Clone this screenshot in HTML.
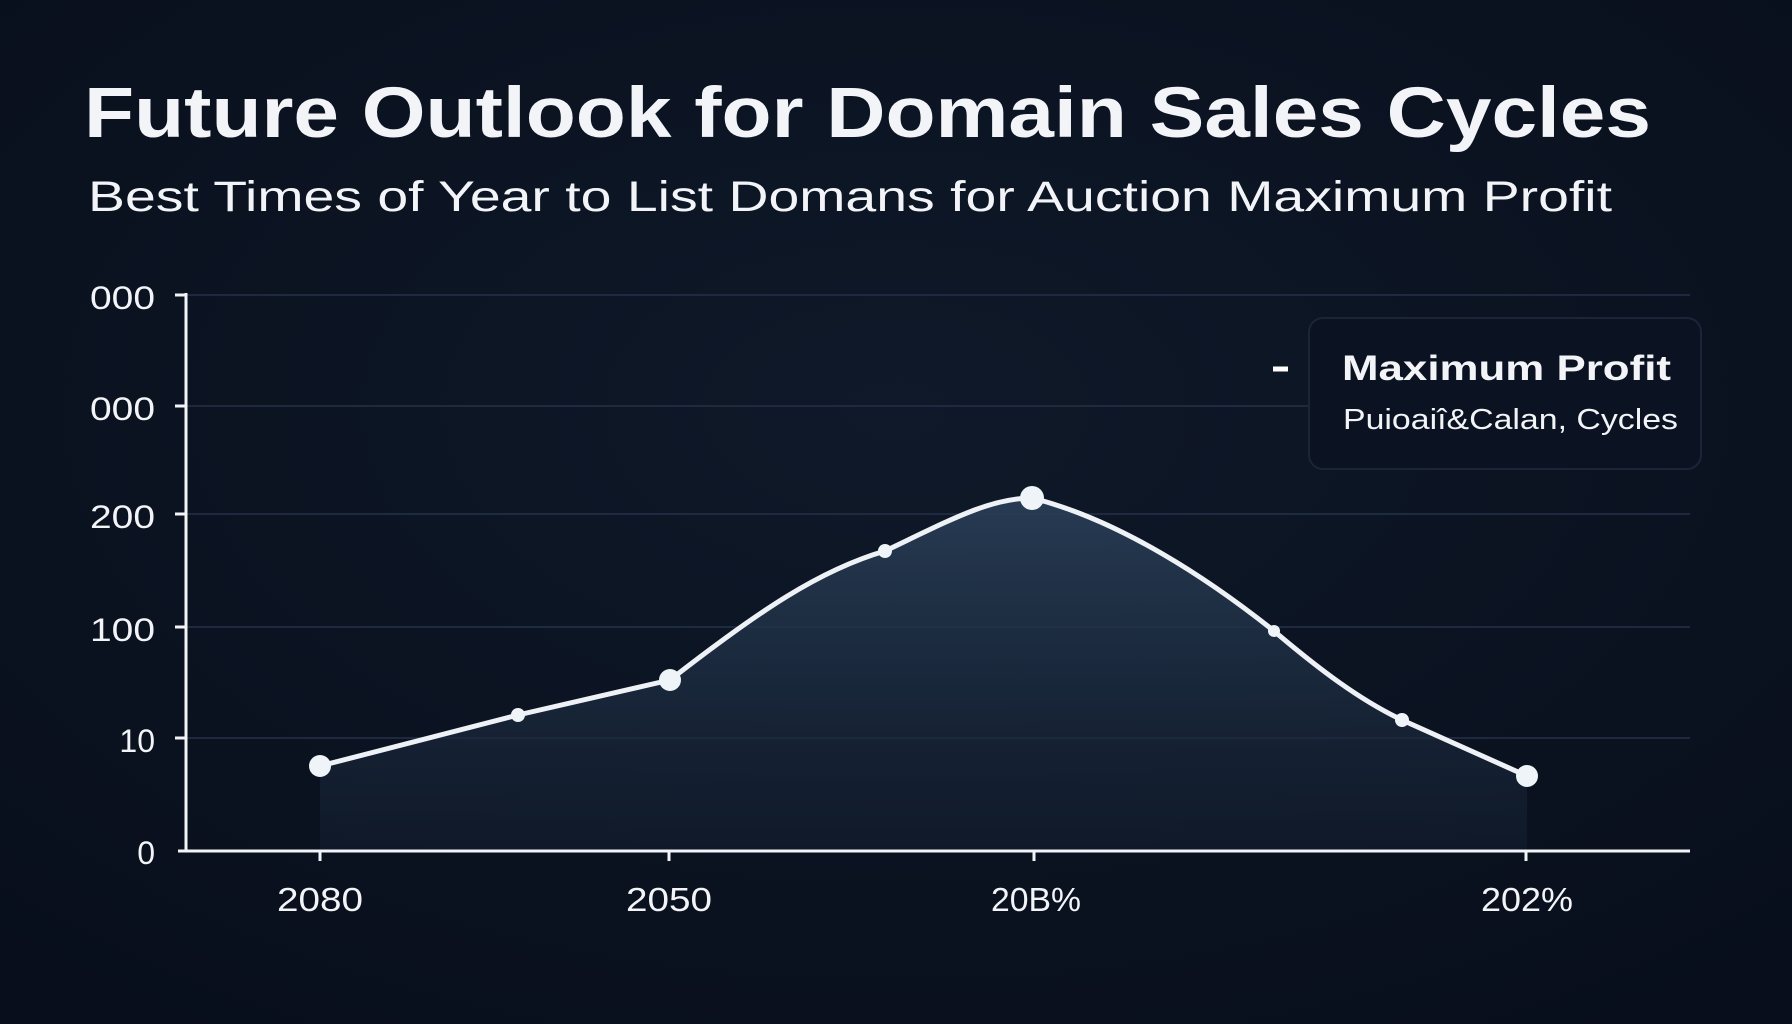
<!DOCTYPE html>
<html><head><meta charset="utf-8"><style>
html,body{margin:0;padding:0;background:#0a1120;}
svg{display:block}
text{font-family:"Liberation Sans",sans-serif;fill:#f2f4f7}
</style></head><body>
<svg width="1792" height="1024" viewBox="0 0 1792 1024">
<defs>
<radialGradient id="bg" cx="50%" cy="40%" r="75%"><stop offset="0" stop-color="#0f1929"/><stop offset="1" stop-color="#080e1b"/></radialGradient>
<linearGradient id="fill" x1="0" y1="0" x2="0" y2="1"><stop offset="0" stop-color="#2a3f58" stop-opacity="0.9"/><stop offset="1" stop-color="#121d2e" stop-opacity="0.6"/></linearGradient>
</defs>
<rect width="1792" height="1024" fill="url(#bg)"/>
<text x="84" y="137" font-size="71" font-weight="bold" textLength="1567" lengthAdjust="spacingAndGlyphs">Future Outlook for Domain Sales Cycles</text>
<text x="88" y="211" font-size="43" textLength="1524" lengthAdjust="spacingAndGlyphs">Best Times of Year to List Domans for Auction Maximum Profit</text>
<g stroke="#25314a" stroke-width="1.5">
<line x1="186" y1="295" x2="1690" y2="295"/><line x1="186" y1="406" x2="1690" y2="406"/>
<line x1="186" y1="514" x2="1690" y2="514"/><line x1="186" y1="627" x2="1690" y2="627"/>
<line x1="186" y1="738" x2="1690" y2="738"/>
</g>
<rect x="1309" y="318" width="392" height="151" rx="14" fill="#0b1322" stroke="#1b2538" stroke-width="2"/>
<line x1="1273" y1="369" x2="1288" y2="369" stroke="#fff" stroke-width="5"/>
<text x="1342" y="380" font-size="35" font-weight="bold" textLength="329" lengthAdjust="spacingAndGlyphs">Maximum Profit</text>
<text x="1343" y="429" font-size="29" fill="#dde2ea" textLength="335" lengthAdjust="spacingAndGlyphs">Puioaiî&amp;Calan, Cycles</text>
<path d="M320,766 L518,715 L670,680 C760,610 820,570 885,551 C950,520 990,498 1032,498 C1120,520 1210,580 1274,631 C1320,670 1360,700 1402,720 L1527,776 L1527,851 L320,851 Z" fill="url(#fill)"/>
<path d="M320,766 L518,715 L670,680 C760,610 820,570 885,551 C950,520 990,498 1032,498 C1120,520 1210,580 1274,631 C1320,670 1360,700 1402,720 L1527,776" fill="none" stroke="#eef2f6" stroke-width="5" stroke-linejoin="round"/>
<g fill="#eef4f8">
<circle cx="320" cy="766" r="11"/><circle cx="518" cy="715" r="7"/><circle cx="670" cy="680" r="11"/>
<circle cx="885" cy="551" r="7"/><circle cx="1032" cy="498" r="12"/><circle cx="1274" cy="631" r="6"/>
<circle cx="1402" cy="720" r="7"/><circle cx="1527" cy="776" r="11"/>
</g>
<g stroke="#f2f4f7" stroke-width="3">
<line x1="186" y1="293" x2="186" y2="852"/><line x1="178" y1="851" x2="1690" y2="851"/>
<line x1="175" y1="295" x2="186" y2="295"/><line x1="175" y1="406" x2="186" y2="406"/>
<line x1="175" y1="514" x2="186" y2="514"/><line x1="175" y1="627" x2="186" y2="627"/>
<line x1="175" y1="738" x2="186" y2="738"/>
<line x1="320" y1="851" x2="320" y2="861"/><line x1="669" y1="851" x2="669" y2="861"/>
<line x1="1034" y1="851" x2="1034" y2="861"/><line x1="1526" y1="851" x2="1526" y2="861"/>
</g>
<g font-size="32" text-anchor="end">
<text x="155" y="309" textLength="65" lengthAdjust="spacingAndGlyphs">000</text><text x="155" y="420" textLength="65" lengthAdjust="spacingAndGlyphs">000</text><text x="155" y="528" textLength="65" lengthAdjust="spacingAndGlyphs">200</text>
<text x="155" y="641" textLength="65" lengthAdjust="spacingAndGlyphs">100</text><text x="155" y="752">10</text><text x="155" y="864">0</text>
</g>
<g font-size="33" text-anchor="middle">
<text x="320" y="911" textLength="86" lengthAdjust="spacingAndGlyphs">2080</text><text x="669" y="911" textLength="86" lengthAdjust="spacingAndGlyphs">2050</text>
<text x="1036" y="911" textLength="90" lengthAdjust="spacingAndGlyphs">20B%</text><text x="1527" y="911" textLength="92" lengthAdjust="spacingAndGlyphs">202%</text>
</g>
</svg>
</body></html>
